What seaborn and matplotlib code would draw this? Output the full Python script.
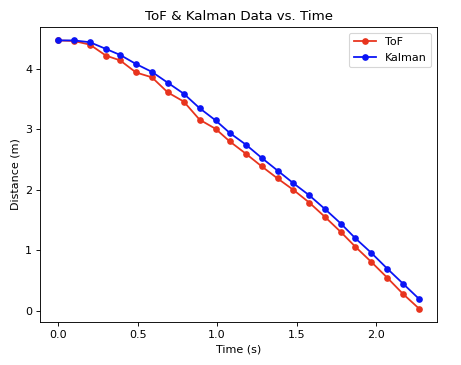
import pandas as pd
import seaborn as sns
import matplotlib.pyplot as plt

# Data
time = [0.0, 0.10, 0.20, 0.30, 0.39, 0.49, 0.59, 0.69, 0.79, 0.89, 0.99, 1.08,
        1.18, 1.28, 1.38, 1.48, 1.58, 1.68, 1.78, 1.87, 1.97, 2.07, 2.17, 2.27]
tof = [4.47, 4.46, 4.40, 4.22, 4.14, 3.94, 3.86, 3.61, 3.46, 3.16, 3.01, 2.80,
       2.60, 2.39, 2.19, 2.00, 1.79, 1.55, 1.30, 1.06, 0.81, 0.55, 0.28, 0.04]
kalman = [4.47, 4.47, 4.44, 4.33, 4.23, 4.08, 3.95, 3.77, 3.59, 3.35, 3.15, 2.94,
          2.75, 2.53, 2.32, 2.11, 1.91, 1.68, 1.44, 1.20, 0.96, 0.70, 0.45, 0.20]

df = pd.DataFrame({'time': time, 'ToF': tof, 'Kalman': kalman})
df = df.melt(id_vars='time', var_name='source', value_name='distance')

# lower dpi so the default font sizes come out as small as in the reference
dpi = 80.6
fig, ax = plt.subplots(figsize=(461 / dpi, 365 / dpi), dpi=dpi)
fig.subplots_adjust(left=0.087, right=0.948, top=0.926, bottom=0.118)

sns.lineplot(data=df, x='time', y='distance', hue='source',
             palette={'ToF': '#e8341e', 'Kalman': '#0a14f5'},
             marker='o', markersize=6, markeredgewidth=0, linewidth=1.6, ax=ax)

ax.set_title('ToF & Kalman Data vs. Time')
ax.set_xlabel('Time (s)')
ax.set_ylabel('Distance (m)')
ax.legend(loc='upper right')

fig.savefig('out.png', dpi=dpi)
